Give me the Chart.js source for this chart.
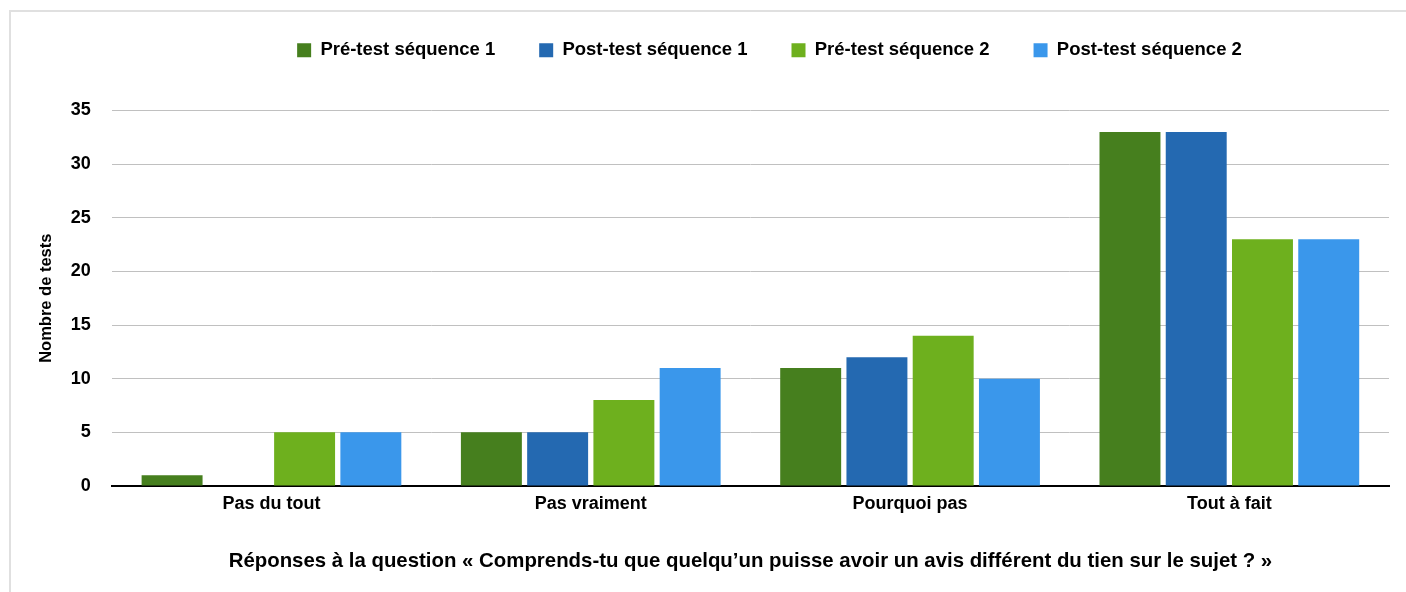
<!DOCTYPE html>
<html>
<head>
<meta charset="utf-8">
<script src="https://cdn.jsdelivr.net/npm/chart.js@4"></script>
<style>
  html, body { margin: 0; padding: 0; background: #fff; }
  #frame {
    position: absolute; left: 9px; top: 10px; width: 1397px; height: 582px;
    border-left: 2px solid #e0e0e0; border-top: 2px solid #e0e0e0;
  }
  #wrap { position: absolute; left: 0; top: 0; width: 1395px; height: 580px; }
</style>
</head>
<body>
<div id="frame"><div id="wrap"><canvas id="myChart"></canvas></div></div>
<script>
const categories = ["Pas du tout", "Pas vraiment", "Pourquoi pas", "Tout à fait"];
const seriesNames = ["Pré-test séquence 1", "Post-test séquence 1", "Pré-test séquence 2", "Post-test séquence 2"];
const preTest1 = [1, 5, 11, 33];
const postTest1 = [0, 5, 12, 33];
const preTest2 = [5, 8, 14, 23];
const postTest2 = [5, 11, 10, 23];
const colors = ["#467f1e", "#2469b1", "#6eb01e", "#3a97eb"];
const yTicks = [0, 5, 10, 15, 20, 25, 30, 35];

const family = "'Liberation Sans', Arial, sans-serif";
const font18 = { family: family, size: 18, weight: "bold" };
Chart.defaults.color = "#000";

// extra room under the legend, and nudge it right like the original
const legendSpacing = {
  id: "legendSpacing",
  afterInit(chart) {
    const fit = chart.legend.fit;
    chart.legend.fit = function () { fit.call(this); this.height += 41; };
  },
  afterLayout(chart) {
    chart.legend.left += 114;
  }
};

new Chart("myChart", {
  type: "bar",
  data: {
    labels: categories,
    datasets: [preTest1, postTest1, preTest2, postTest2].map((d, i) => ({
      label: seriesNames[i],
      data: d,
      backgroundColor: colors[i],
      categoryPercentage: 0.83,
      barPercentage: 0.92
    }))
  },
  plugins: [legendSpacing],
  options: {
    responsive: true,
    maintainAspectRatio: false,
    animation: false,
    layout: { padding: { top: -15, left: 25, right: 17, bottom: 10 } },
    plugins: {
      legend: {
        position: "top",
        labels: { font: { family: family, size: 18.5, weight: "bold" }, boxWidth: 14, boxHeight: 14, padding: 44 }
      },
      tooltip: { enabled: false }
    },
    scales: {
      x: {
        grid: { display: false, drawTicks: false },
        border: { display: true, color: "#000", width: 2 },
        ticks: { font: font18, padding: 7 },
        title: {
          display: true,
          text: "Réponses à la question « Comprends-tu que quelqu’un puisse avoir un avis différent du tien sur le sujet ? »",
          font: { family: family, size: 20.4, weight: "bold" },
          padding: { top: 28, bottom: 8 }
        }
      },
      y: {
        min: 0,
        max: 35,
        afterBuildTicks: (s) => { s.ticks = yTicks.map(v => ({ value: v })); },
        grid: { color: "#c0c0c0", lineWidth: 1, drawTicks: false },
        border: { display: false },
        ticks: { font: font18, padding: 21 },
        title: {
          display: true,
          text: "Nombre de tests",
          font: { family: family, size: 16.5, weight: "bold" },
          padding: { top: 1, bottom: -7 }
        }
      }
    }
  }
});
</script>
</body>
</html>
